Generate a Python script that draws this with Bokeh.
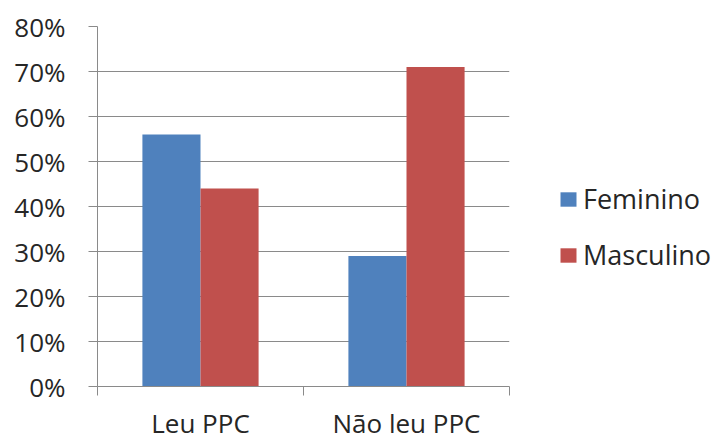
from bokeh.plotting import figure
from bokeh.models import (ColumnDataSource, Range1d, FixedTicker, NumeralTickFormatter,
                          Legend, LegendItem)
from bokeh.transform import dodge
from bokeh.embed import file_html
from bokeh.resources import INLINE

categories = ["Leu PPC", "Não leu PPC"]
series = ["Feminino", "Masculino"]
feminino = [0.56, 0.29]
masculino = [0.44, 0.71]
colors = ["#4F81BD", "#C0504D"]
y_ticks = [0, 0.1, 0.2, 0.3, 0.4, 0.5, 0.6, 0.7, 0.8]

FONT = "Open Sans"
TEXT = "#262626"
GRID = "#8a8a8a"

xpos = [i + 0.5 for i in range(len(categories))]
src = ColumnDataSource(dict(x=xpos, Feminino=feminino, Masculino=masculino))

p = figure(frame_width=412, frame_height=360, output_backend="svg", toolbar_location=None,
           x_range=Range1d(0, len(categories)), y_range=Range1d(0, 0.8),
           min_border_left=97, min_border_right=208, min_border_top=26,
           min_border_bottom=53)
p.outline_line_color = None
p.background_fill_color = "white"
p.border_fill_color = "white"

bw = 0.282
r1 = p.vbar(x=dodge("x", -bw / 2, range=p.x_range), top="Feminino", width=bw,
            source=src, fill_color=colors[0], line_color=None)
r2 = p.vbar(x=dodge("x", bw / 2, range=p.x_range), top="Masculino", width=bw,
            source=src, fill_color=colors[1], line_color=None)

# x axis: labels at category centres, ticks at category boundaries
xa = p.xaxis[0]
xa.ticker = FixedTicker(ticks=xpos, minor_ticks=list(range(len(categories) + 1)))
xa.major_label_overrides = {x: c for x, c in zip(xpos, categories)}
xa.major_tick_line_color = None
xa.major_tick_out = 0
xa.major_tick_in = 0
xa.minor_tick_out = 9
xa.minor_tick_in = 0
xa.minor_tick_line_color = GRID
xa.axis_line_color = GRID
xa.major_label_text_font = FONT
xa.major_label_text_font_size = "26px"
xa.major_label_text_color = TEXT
xa.major_label_standoff = 9

ya = p.yaxis[0]
ya.ticker = FixedTicker(ticks=y_ticks, minor_ticks=[])
ya.formatter = NumeralTickFormatter(format="0%")
ya.major_tick_out = 9
ya.major_tick_in = 0
ya.major_tick_line_color = GRID
ya.minor_tick_line_color = None
ya.axis_line_color = GRID
ya.major_label_text_font = FONT
ya.major_label_text_font_size = "26px"
ya.major_label_text_color = TEXT
ya.major_label_standoff = 23

p.xgrid.grid_line_color = None
p.ygrid.grid_line_color = GRID
p.ygrid.ticker = FixedTicker(ticks=y_ticks)

legend = Legend(items=[LegendItem(label=series[0], renderers=[r1]),
                       LegendItem(label=series[1], renderers=[r2])],
                location=(49, 113), margin=0, padding=5, spacing=19,
                glyph_width=20, glyph_height=18, label_standoff=5,
                label_text_font=FONT, label_text_font_size="27px",
                label_text_color=TEXT, border_line_color=None,
                background_fill_alpha=0)
p.add_layout(legend, "right")

open("out.html", "w").write(file_html(p, INLINE))
